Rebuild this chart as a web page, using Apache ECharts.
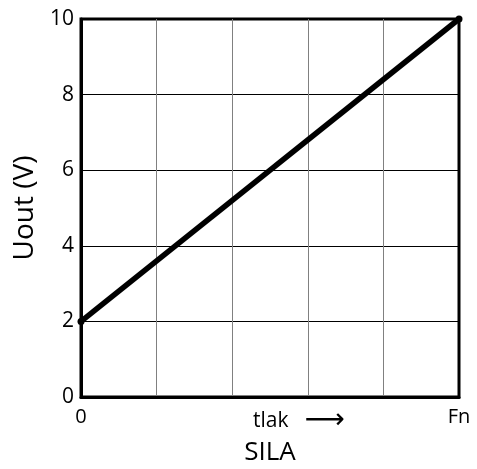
<!DOCTYPE html>
<html><head><meta charset="utf-8">
<script src="https://cdn.jsdelivr.net/npm/echarts@6/dist/echarts.min.js"></script>
<style>html,body{margin:0;padding:0;background:#fff}#c{width:477px;height:469px}</style>
</head><body><div id="c"></div>
<script>
const xValues = [0, 5];
const yValues = [2, 10];
const xTickLabels = {0: '0', 3: 'tlak', 5: 'Fn'};
const arrowText = '⟶';
const yTicks = [0, 2, 4, 6, 8, 10];
const xName = 'SILA';
const yName = 'Uout (V)';

const font = "'Open Sans', 'Liberation Sans', sans-serif";
const chart = echarts.init(document.getElementById('c'), null, {renderer: 'canvas'});
chart.setOption({
  animation: false,
  backgroundColor: '#fff',
  grid: {left: 81, right: 18, top: 19, bottom: 72, containLabel: false, outerBoundsMode: 'none', show: true, borderColor: '#000', borderWidth: 3, backgroundColor: 'transparent'},
  xAxis: {
    type: 'value', min: 0, max: 5, interval: 1,
    name: xName, nameLocation: 'middle', nameGap: 39,
    nameTextStyle: {fontFamily: font, fontSize: 26, color: '#000'},
    axisLine: {show: true, lineStyle: {color: '#000', width: 3}},
    axisTick: {show: false},
    axisLabel: {
      fontFamily: font, fontSize: 20, color: '#000', margin: 10,
      formatter: v => v === 3 ? '{t|' + xTickLabels[3] + '}{a|' + arrowText + '}' : (xTickLabels[v] || ''),
      rich: {
        t: {fontFamily: font, fontSize: 21, color: '#000'},
        a: {fontFamily: "'DejaVu Sans', sans-serif", fontSize: 28, color: '#000', padding: [0, 18, 0, 16]}
      }
    },
    splitLine: {show: true, showMinLine: false, showMaxLine: false, lineStyle: {color: '#808080', width: 1}}
  },
  yAxis: {
    type: 'value', min: yTicks[0], max: yTicks[yTicks.length - 1], interval: 2,
    name: yName, nameLocation: 'middle', nameGap: 40, nameRotate: 90,
    nameTextStyle: {fontFamily: font, fontSize: 28, color: '#000'},
    axisLine: {show: true, lineStyle: {color: '#000', width: 3}},
    axisTick: {show: false},
    axisLabel: {fontFamily: font, fontSize: 21, color: '#000', margin: 7},
    splitLine: {show: true, showMinLine: false, showMaxLine: false, lineStyle: {color: '#000', width: 1}}
  },
  series: [{
    type: 'line',
    data: xValues.map((x, i) => [x, yValues[i]]),
    symbol: 'circle', symbolSize: 7,
    itemStyle: {color: '#000'},
    lineStyle: {color: '#000', width: 5.5},
    clip: false
  }]
});
</script></body></html>
